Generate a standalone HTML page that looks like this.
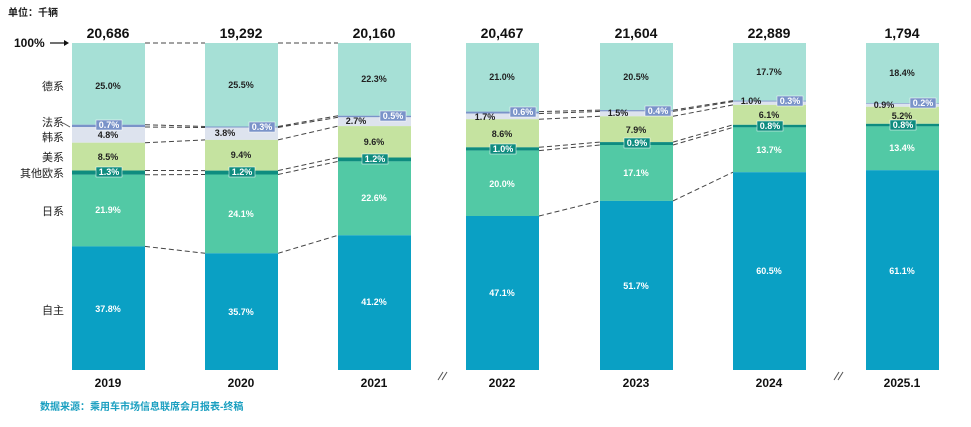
<!DOCTYPE html><html><head><meta charset="utf-8"><style>
body{margin:0;background:#fff;width:971px;height:422px;overflow:hidden}
text{font-family:"Liberation Sans","Noto Sans CJK SC",sans-serif}
.p{font-size:9px;font-weight:bold;text-anchor:middle}
.w{fill:#fff}.d{fill:#222}
.y{font-size:12px;font-weight:bold;text-anchor:middle;fill:#111}
.t{font-size:14px;font-weight:bold;text-anchor:middle;fill:#111}
.l{font-size:11px;text-anchor:end;fill:#222}
.ds{stroke:#444;stroke-width:1;stroke-dasharray:5,3;fill:none}
</style></head><body>
<svg width="971" height="422" xmlns="http://www.w3.org/2000/svg">
<text x="8" y="16" font-size="10" font-weight="bold" fill="#222">单位：千辆</text>
<text x="14" y="47" font-size="12" font-weight="bold" fill="#111">100%</text>
<line x1="50" y1="43" x2="64" y2="43" stroke="#111" stroke-width="1.2"/><polygon points="64,40 69,43 64,46" fill="#111"/>
<g class="l">
<text x="64" y="90">德系</text><text x="64" y="126">法系</text><text x="64" y="141">韩系</text><text x="64" y="161">美系</text><text x="64" y="177">其他欧系</text><text x="64" y="215">日系</text><text x="64" y="314">自主</text>
</g>
<line x1="63" y1="123" x2="70" y2="127" stroke="#555"/>
<g class="ds">
<path d="M145 43H205M278 43H338"/>
<path d="M145 124.7L205 126.5M145 127L205 127.5M145 142.7L205 139.9M145 170.5L205 170.6M145 174.8L205 174.5M145 246.4L205 253.3"/>
<path d="M278 126.5L338 115.7M278 127.5L338 117.3M278 139.9L338 126.1M278 170.6L338 157.5M278 174.5L338 161.4M278 253.3L338 235.3"/>
<path d="M539 111.6L600 110.1M539 113.6L600 111.4M539 119.2L600 116.3M539 147.3L600 142.1M539 150.6L600 145M539 216L600 200.9"/>
<path d="M673 110.1L733 100.6M673 111.4L733 101.6M673 116.3L733 104.9M673 142.1L733 124.8M673 145L733 127.4M673 200.9L733 172.2"/>
</g>
<g>
<rect x="72" y="43" width="73" height="81.7" fill="#a6e0d6"/><rect x="72" y="124.7" width="73" height="2.3" fill="#7a93c9"/><rect x="72" y="127" width="73" height="15.7" fill="#dde3ee"/><rect x="72" y="142.7" width="73" height="27.8" fill="#c5e3a0"/><rect x="72" y="170.5" width="73" height="4.3" fill="#0e8c7f"/><rect x="72" y="174.8" width="73" height="71.6" fill="#52c9a5"/><rect x="72" y="246.4" width="73" height="123.6" fill="#0aa0c4"/>
<rect x="205" y="43" width="73" height="83.5" fill="#a6e0d6"/><rect x="205" y="126.5" width="73" height="1.5" fill="#7a93c9"/><rect x="205" y="127.5" width="73" height="12.4" fill="#dde3ee"/><rect x="205" y="139.9" width="73" height="30.7" fill="#c5e3a0"/><rect x="205" y="170.6" width="73" height="3.9" fill="#0e8c7f"/><rect x="205" y="174.5" width="73" height="78.8" fill="#52c9a5"/><rect x="205" y="253.3" width="73" height="116.7" fill="#0aa0c4"/>
<rect x="338" y="43" width="73" height="72.7" fill="#a6e0d6"/><rect x="338" y="115.7" width="73" height="1.6" fill="#7a93c9"/><rect x="338" y="117.3" width="73" height="8.8" fill="#dde3ee"/><rect x="338" y="126.1" width="73" height="31.4" fill="#c5e3a0"/><rect x="338" y="157.5" width="73" height="3.9" fill="#0e8c7f"/><rect x="338" y="161.4" width="73" height="73.9" fill="#52c9a5"/><rect x="338" y="235.3" width="73" height="134.7" fill="#0aa0c4"/>
<rect x="466" y="43" width="73" height="68.6" fill="#a6e0d6"/><rect x="466" y="111.6" width="73" height="2" fill="#7a93c9"/><rect x="466" y="113.6" width="73" height="5.6" fill="#dde3ee"/><rect x="466" y="119.2" width="73" height="28.1" fill="#c5e3a0"/><rect x="466" y="147.3" width="73" height="3.3" fill="#0e8c7f"/><rect x="466" y="150.6" width="73" height="65.4" fill="#52c9a5"/><rect x="466" y="216" width="73" height="154" fill="#0aa0c4"/>
<rect x="600" y="43" width="73" height="67.1" fill="#a6e0d6"/><rect x="600" y="110.1" width="73" height="1.3" fill="#7a93c9"/><rect x="600" y="111.4" width="73" height="4.9" fill="#dde3ee"/><rect x="600" y="116.3" width="73" height="25.8" fill="#c5e3a0"/><rect x="600" y="142.1" width="73" height="2.9" fill="#0e8c7f"/><rect x="600" y="145" width="73" height="55.9" fill="#52c9a5"/><rect x="600" y="200.9" width="73" height="169.1" fill="#0aa0c4"/>
<rect x="733" y="43" width="73" height="57.6" fill="#a6e0d6"/><rect x="733" y="100.6" width="73" height="1" fill="#7a93c9"/><rect x="733" y="101.6" width="73" height="3.3" fill="#dde3ee"/><rect x="733" y="104.9" width="73" height="19.9" fill="#c5e3a0"/><rect x="733" y="124.8" width="73" height="2.6" fill="#0e8c7f"/><rect x="733" y="127.4" width="73" height="44.8" fill="#52c9a5"/><rect x="733" y="172.2" width="73" height="197.8" fill="#0aa0c4"/>
<rect x="866" y="43" width="73" height="60.2" fill="#a6e0d6"/><rect x="866" y="103.2" width="73" height="0.7" fill="#7a93c9"/><rect x="866" y="103.9" width="73" height="2.9" fill="#dde3ee"/><rect x="866" y="106.8" width="73" height="17" fill="#c5e3a0"/><rect x="866" y="123.8" width="73" height="2.6" fill="#0e8c7f"/><rect x="866" y="126.4" width="73" height="43.8" fill="#52c9a5"/><rect x="866" y="170.2" width="73" height="199.8" fill="#0aa0c4"/>
</g>
<g fill="#7a93c9" stroke="#fff" stroke-width="0.5">
<rect x="96" y="120" width="26" height="10"/><rect x="249" y="122" width="26" height="10"/><rect x="380" y="111" width="26" height="10"/><rect x="510" y="107" width="26" height="10"/><rect x="645" y="106" width="26" height="10"/><rect x="777" y="96" width="26" height="10"/><rect x="910" y="98" width="26" height="10"/>
</g>
<g fill="#0e8c7f" stroke="#fff" stroke-width="0.5">
<rect x="96" y="167" width="26" height="10"/><rect x="229" y="167" width="26" height="10"/><rect x="362" y="154" width="26" height="10"/><rect x="490" y="144" width="26" height="10"/><rect x="624" y="138" width="26" height="10"/><rect x="757" y="121" width="26" height="10"/><rect x="890" y="120" width="26" height="10"/>
</g>
<g class="p">
<text class="d" x="108" y="89">25.0%</text><text class="w" x="109" y="128">0.7%</text><text class="d" x="108" y="138">4.8%</text><text class="d" x="108" y="160">8.5%</text><text class="w" x="109" y="175">1.3%</text><text class="w" x="108" y="213">21.9%</text><text class="w" x="108" y="312">37.8%</text>
<text class="d" x="241" y="88">25.5%</text><text class="w" x="262" y="130">0.3%</text><text class="d" x="225" y="136">3.8%</text><text class="d" x="241" y="158">9.4%</text><text class="w" x="242" y="175">1.2%</text><text class="w" x="241" y="217">24.1%</text><text class="w" x="241" y="315">35.7%</text>
<text class="d" x="374" y="82">22.3%</text><text class="w" x="393" y="119">0.5%</text><text class="d" x="356" y="124">2.7%</text><text class="d" x="374" y="145">9.6%</text><text class="w" x="375" y="162">1.2%</text><text class="w" x="374" y="201">22.6%</text><text class="w" x="374" y="305">41.2%</text>
<text class="d" x="502" y="80">21.0%</text><text class="w" x="523" y="115">0.6%</text><text class="d" x="485" y="120">1.7%</text><text class="d" x="502" y="137">8.6%</text><text class="w" x="503" y="152">1.0%</text><text class="w" x="502" y="187">20.0%</text><text class="w" x="502" y="296">47.1%</text>
<text class="d" x="636" y="80">20.5%</text><text class="w" x="658" y="114">0.4%</text><text class="d" x="618" y="116">1.5%</text><text class="d" x="636" y="133">7.9%</text><text class="w" x="637" y="146">0.9%</text><text class="w" x="636" y="176">17.1%</text><text class="w" x="636" y="289">51.7%</text>
<text class="d" x="769" y="75">17.7%</text><text class="w" x="790" y="104">0.3%</text><text class="d" x="751" y="104">1.0%</text><text class="d" x="769" y="118">6.1%</text><text class="w" x="770" y="129">0.8%</text><text class="w" x="769" y="153">13.7%</text><text class="w" x="769" y="274">60.5%</text>
<text class="d" x="902" y="76">18.4%</text><text class="w" x="923" y="106">0.2%</text><text class="d" x="884" y="108">0.9%</text><text class="d" x="902" y="119">5.2%</text><text class="w" x="903" y="128">0.8%</text><text class="w" x="902" y="151">13.4%</text><text class="w" x="902" y="274">61.1%</text>
</g>
<g class="t">
<text x="108" y="38">20,686</text><text x="241" y="38">19,292</text><text x="374" y="38">20,160</text><text x="502" y="38">20,467</text><text x="636" y="38">21,604</text><text x="769" y="38">22,889</text><text x="902" y="38">1,794</text>
</g>
<g stroke="#555" stroke-width="1"><line x1="438" y1="380" x2="443" y2="372"/><line x1="442" y1="380" x2="447" y2="372"/><line x1="834" y1="380" x2="839" y2="372"/><line x1="838" y1="380" x2="843" y2="372"/></g>
<g class="y">
<text x="108" y="387">2019</text><text x="241" y="387">2020</text><text x="374" y="387">2021</text><text x="502" y="387">2022</text><text x="636" y="387">2023</text><text x="769" y="387">2024</text><text x="902" y="387">2025.1</text>
</g>
<text x="40" y="410" font-size="10" font-weight="bold" fill="#1a9fc0">数据来源：乘用车市场信息联席会月报表-终稿</text>
</svg>
</body></html>
